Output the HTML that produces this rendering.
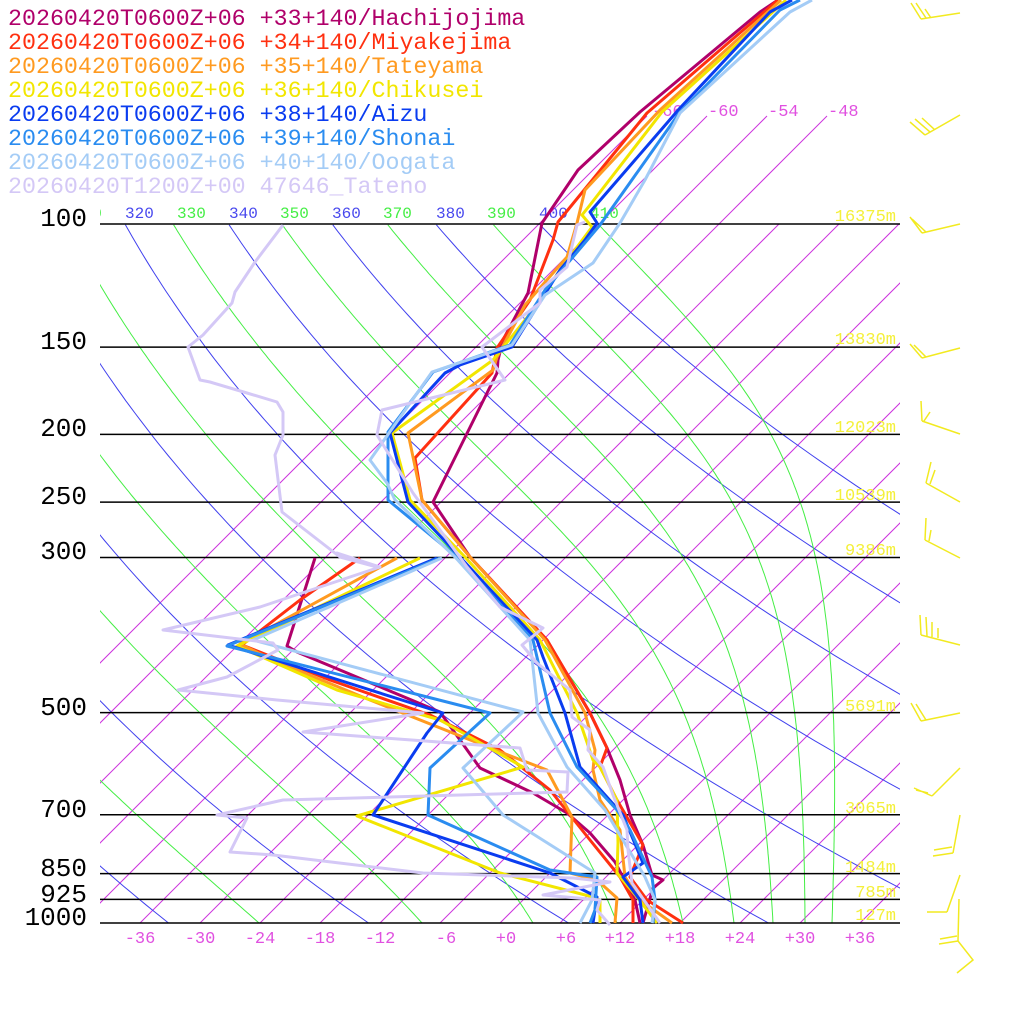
<!DOCTYPE html>
<html><head><meta charset="utf-8"><style>
html,body{margin:0;padding:0;background:#fff;}
svg{display:block;}
.leg{font-family:"Liberation Mono",monospace;font-size:23.3px;}
.pl{font-family:"Liberation Mono",monospace;font-size:26px;fill:#000;}
.hl{font-family:"Liberation Mono",monospace;font-size:17px;fill:#f4f03a;}
.tl{font-family:"Liberation Mono",monospace;font-size:17px;fill:#e050e0;}
.th{font-family:"Liberation Mono",monospace;font-size:16px;}
</style></head><body>
<svg id="s" width="1024" height="1024" viewBox="0 0 1024 1024" xmlns="http://www.w3.org/2000/svg">
<defs>
<clipPath id="cm"><rect x="100" y="224" width="800" height="699"/></clipPath>
<clipPath id="cu"><rect x="100" y="100" width="800" height="823"/></clipPath>
<clipPath id="cl"><rect x="100" y="195" width="800" height="30"/></clipPath>
</defs>
<rect width="1024" height="1024" fill="#fff"/>
<g id="bg"></g>
<g id="isob" stroke="#000" stroke-width="1.5"></g>

<g class="leg">
<text x="8" y="25" fill="#b0006a">20260420T0600Z+06 +33+140/Hachijojima</text>
<text x="8" y="49" fill="#ff3010">20260420T0600Z+06 +34+140/Miyakejima</text>
<text x="8" y="73" fill="#ff9a20">20260420T0600Z+06 +35+140/Tateyama</text>
<text x="8" y="97" fill="#f2e600">20260420T0600Z+06 +36+140/Chikusei</text>
<text x="8" y="121" fill="#0a3cf0">20260420T0600Z+06 +38+140/Aizu</text>
<text x="8" y="145" fill="#2a8cf0">20260420T0600Z+06 +39+140/Shonai</text>
<text x="8" y="169" fill="#a4ccf6">20260420T0600Z+06 +40+140/Oogata</text>
<text x="8" y="193" fill="#d4c8f6">20260420T1200Z+00 47646_Tateno</text>
</g>

<g class="th" clip-path="url(#cl)">
<text x="73" y="218" fill="#44ee44">310</text>
<text x="125" y="218" fill="#4848ee">320</text>
<text x="177" y="218" fill="#44ee44">330</text>
<text x="229" y="218" fill="#4848ee">340</text>
<text x="280" y="218" fill="#44ee44">350</text>
<text x="332" y="218" fill="#4848ee">360</text>
<text x="383" y="218" fill="#44ee44">370</text>
<text x="436" y="218" fill="#4848ee">380</text>
<text x="487" y="218" fill="#44ee44">390</text>
<text x="539" y="218" fill="#4848ee">400</text>
<text x="590" y="218" fill="#44ee44">410</text>
</g>

<g class="tl">
<text x="652" y="116">-66</text>
<text x="708" y="116">-60</text>
<text x="768" y="116">-54</text>
<text x="828" y="116">-48</text>
</g>

<g class="tl" text-anchor="middle">
<text x="140" y="943">-36</text><text x="200" y="943">-30</text><text x="260" y="943">-24</text>
<text x="320" y="943">-18</text><text x="380" y="943">-12</text><text x="446" y="943">-6</text>
<text x="506" y="943">+0</text><text x="566" y="943">+6</text><text x="620" y="943">+12</text>
<text x="680" y="943">+18</text><text x="740" y="943">+24</text><text x="800" y="943">+30</text>
<text x="860" y="943">+36</text>
</g>

<g class="pl" text-anchor="end">
<text x="87" y="226">100</text>
<text x="87" y="349">150</text>
<text x="87" y="436">200</text>
<text x="87" y="504">250</text>
<text x="87" y="559">300</text>
<text x="87" y="715">500</text>
<text x="87" y="817">700</text>
<text x="87" y="876">850</text>
<text x="87" y="902">925</text>
<text x="87" y="925">1000</text>
</g>

<g class="hl" text-anchor="end">
<text x="896" y="221">16375m</text>
<text x="896" y="344">13830m</text>
<text x="896" y="432">12023m</text>
<text x="896" y="500">10539m</text>
<text x="896" y="555">9386m</text>
<text x="896" y="711">5691m</text>
<text x="896" y="813">3065m</text>
<text x="896" y="872">1484m</text>
<text x="896" y="897">785m</text>
<text x="896" y="920">127m</text>
</g>

<g fill="none" stroke="#f2ea20" stroke-width="1.5">
<path d="M960 13L921 19M921 19L911 3M926 18L916 3M931 18L925 9"/>
<path d="M960 115L925 135M925 135L910 122M930 132L915 119M935 130L922 118"/>
<path d="M960 224L922 233M922 233L910 217M926 232L912 219"/>
<path d="M960 348L922 358M922 358L910 344M926 357L914 345"/>
<path d="M960 434L922 421M922 421L921 401M924 421L930 412"/>
<path d="M960 502L926 483M926 483L931 462M930 484L935 470"/>
<path d="M960 558L925 540M925 540L926 518M929 541L931 530"/>
<path d="M960 645L921 635M921 635L920 615M927 636L926 617M932 637L932 622M938 638L938 628"/>
<path d="M960 713L921 721M921 721L911 703M926 720L916 704"/>
<path d="M960 768L932 796M932 796L914 788M928 793L916 790"/>
<path d="M960 815L953 853M953 853L933 856M952 847L934 850"/>
<path d="M960 875L947 912M947 912L927 912"/>
<path d="M959 899L958 941L973 960L957 973M958 941L939 944M957 936L940 939"/>
</g>

<g fill="none" stroke-width="3" stroke-linejoin="round">
<polyline stroke="#b0006a" points="778,0 760,12 640,112 578,170 542,223 528,293 503,340 498,360 497,373 487,393 433,502 470,557 510,600 547,640 590,713 607,748 620,780 630,815 643,845 652,875 663,880 653,888 643,923"/>
<polyline stroke="#b0006a" points="315,558 287,646 297,652 440,712 480,768 533,793 567,813 590,833 615,862 635,900 640,923"/>
<polyline stroke="#ff3010" points="778,0 647,113 558,222 553,240 530,300 497,348 492,373 415,458 422,500 470,557 547,640 590,713 607,748 600,767 617,800 643,845 630,877 647,900 683,923"/>
<polyline stroke="#ff3010" points="360,558 300,600 242,645 330,680 430,715 500,750 550,790 590,840 620,877 633,900 633,923"/>
<polyline stroke="#ff9a20" points="781,0 660,110 585,190 577,223 567,257 525,305 497,357 493,370 408,433 422,500 470,557 545,640 585,713 595,750 593,770 600,800 620,830 625,877 640,900 672,923"/>
<polyline stroke="#ff9a20" points="397,558 240,644 273,660 370,700 503,753 547,770 572,817 570,873 597,880 617,898 615,923"/>
<polyline stroke="#f2e600" points="786,0 662,112 590,205 582,215 592,227 560,270 533,310 493,360 392,433 410,500 465,557 540,640 577,713 593,760 600,767 617,800 618,843 617,873 637,897 657,923"/>
<polyline stroke="#f2e600" points="420,558 237,646 337,690 440,720 523,767 357,816 500,873 593,897 600,900 600,923"/>
<polyline stroke="#0a3cf0" points="792,0 770,12 680,108 590,212 597,223 585,240 560,270 512,347 460,365 445,373 390,433 408,502 460,557 537,640 543,657 565,713 580,767 623,815 643,863 623,877 640,900 643,923"/>
<polyline stroke="#0a3cf0" points="437,558 228,645 443,713 427,733 373,815 550,873 597,897 593,923"/>
<polyline stroke="#2a8cf0" points="800,0 780,10 680,112 600,225 545,290 510,345 433,372 388,432 388,500 457,557 533,640 550,713 577,767 617,810 630,830 652,877 655,900 653,923"/>
<polyline stroke="#2a8cf0" points="440,558 227,646 490,713 430,768 428,815 550,870 597,877 595,910 590,923"/>
<polyline stroke="#a4ccf6" points="812,0 790,12 680,113 645,180 620,223 593,263 545,295 512,345 432,372 370,460 387,483 395,500 455,557 530,640 538,713 567,767 605,810 645,877 655,900 652,923"/>
<polyline stroke="#a4ccf6" points="442,558 253,640 523,712 463,768 503,815 595,873 592,900 580,923"/>
<polyline stroke="#d4c8f6" points="585,222 577,225 567,267 540,290 540,303 482,347 505,380 382,410 377,435 413,493 467,567 500,607 543,628 522,645 537,663 570,690 572,717 590,730 588,750 603,767 613,795 627,830 628,850 632,883 660,923"/>
<polyline stroke="#d4c8f6" points="283,225 255,262 235,292 232,303 203,335 188,347 200,380 210,382 247,393 277,402 283,412 283,435 275,455 282,512 340,557 377,567 353,560 337,553 380,567 260,607 163,630 273,643 278,650 227,677 178,690 277,700 423,713 303,732 520,748 527,770 568,772 567,792 283,800 217,815 247,818 230,852 273,855 423,873 573,878 610,882 543,895 600,900 597,910 610,925"/>
</g>
</svg>
<script>
(function(){
var NS="http://www.w3.org/2000/svg";
var bg=document.getElementById("bg");
function Y(p){return 923-303.57*Math.log(1000/p);}
function X(T,p){return 500+10*T+(923-Y(p));}
function pl(pts,col,clip){
 var e=document.createElementNS(NS,"polyline");
 e.setAttribute("points",pts.map(function(a){return a[0].toFixed(1)+","+a[1].toFixed(1);}).join(" "));
 e.setAttribute("fill","none");e.setAttribute("stroke",col);e.setAttribute("stroke-width","1");
 e.setAttribute("clip-path","url(#"+clip+")");bg.appendChild(e);
}
for(var T=-66;T<=90;T+=6){
 var ytop=(T<=-48)?116:224;
 var x0=500+10*T;
 pl([[x0,923],[x0+(923-ytop),ytop]],"#cc33dd",T<=-48?"cu":"cm");
}
for(var th=200;th<=400;th+=20){
 var pts=[];
 for(var lp=Math.log(1000);lp>=Math.log(100)-1e-9;lp-=0.02){
  var p=Math.exp(lp);var Tk=th*Math.pow(p/1000,0.2857);
  pts.push([X(Tk-273.15,p),Y(p)]);
 }
 pl(pts,"#4040ee","cm");
}
function es(Tc){return 6.112*Math.exp(17.67*Tc/(Tc+243.5));}
function f(Tk,p){var e=es(Tk-273.15);var rs=0.622*e/(p-e);var Rd=287.04,Lv=2.501e6,cp=1005.7;
 return (Rd*Tk+Lv*rs)/(cp+Lv*Lv*rs*0.622/(Rd*Tk*Tk));}
[-24.1,-7.8,3.3,11.7,18.3,23.4,27.3,30.5,33.2].forEach(function(T0){
 var Tk=T0+273.15,lp=Math.log(1000),h=-0.01,pts=[];
 while(lp>=Math.log(100)-1e-9){
  var p=Math.exp(lp);pts.push([X(Tk-273.15,p),Y(p)]);
  var k1=f(Tk,p);var k2=f(Tk+k1*h/2,Math.exp(lp+h/2));var k3=f(Tk+k2*h/2,Math.exp(lp+h/2));var k4=f(Tk+k3*h,Math.exp(lp+h));
  Tk+=h*(k1+2*k2+2*k3+k4)/6;lp+=h;
 }
 pl(pts,"#44ee44","cm");
});
var ib=document.getElementById("isob");
[100,150,200,250,300,500,700,850,925,1000].forEach(function(p){
 var l=document.createElementNS(NS,"line");var y=Y(p);
 l.setAttribute("x1",100);l.setAttribute("x2",900);l.setAttribute("y1",y);l.setAttribute("y2",y);ib.appendChild(l);
});
})();
</script>
</body></html>
